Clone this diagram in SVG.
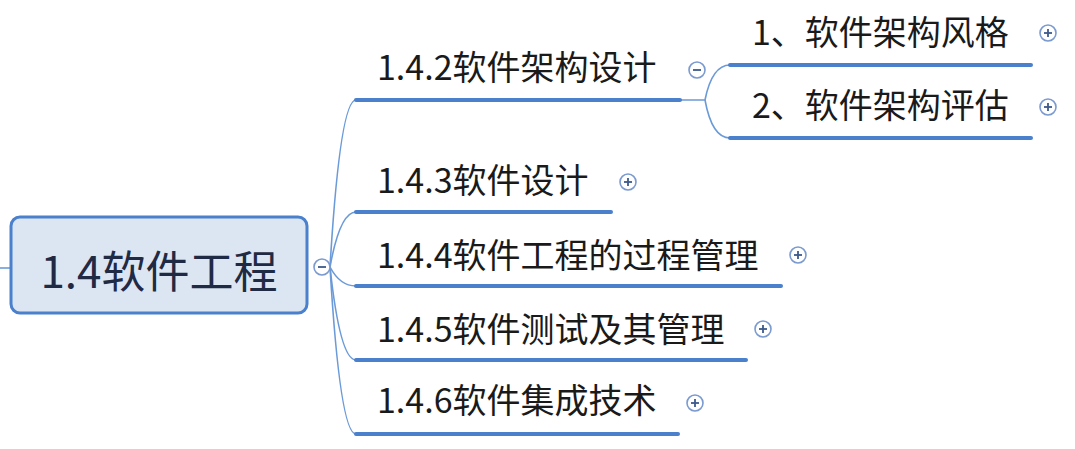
<svg xmlns="http://www.w3.org/2000/svg" width="1075" height="449" viewBox="0 0 1075 449">
<style>
.t{font-family:"Noto Sans CJK SC","Microsoft YaHei",sans-serif;fill:#1a1a1a;font-size:34px}
.root{font-family:"Noto Sans CJK SC","Microsoft YaHei",sans-serif;fill:#1f2a44;font-size:44px}
.ul{stroke:#4a80cc;stroke-width:4;stroke-linecap:round;fill:none}
.cn{stroke:#6b9ad8;stroke-width:1.6;fill:none}
.ic{fill:#fff;stroke:#7a9ad0;stroke-width:1.6}
.sg{stroke:#3d5a8c;stroke-width:1.8}
</style>
<rect width="1075" height="449" fill="#fff"/>
<g id="connectors">
<line class="cn" x1="0" y1="268" x2="11" y2="268"/>
<path class="cn" d="M330,267 Q340,100 356,100"/>
<path class="cn" d="M330,267 Q340,212 356,212"/>
<path class="cn" d="M330,267 Q340,286 356,286"/>
<path class="cn" d="M330,267 Q340,360 356,360"/>
<path class="cn" d="M330,267 Q340,434 356,434"/>
<path class="cn" d="M680,100 L705,100 Q712,65 730,65"/>
<path class="cn" d="M705,100 Q712,138 730,138"/>
</g>
<g id="root">
<rect x="11" y="217" width="296" height="96" rx="9" fill="#dce6f2" stroke="#4a80cc" stroke-width="3"/>
<text class="root" x="159" y="288" text-anchor="middle">1.4软件工程</text>
<circle class="ic" cx="322" cy="267" r="8"/>
<line class="sg" x1="318" y1="267" x2="326" y2="267"/>
</g>
<g id="n142">
<text class="t" x="377" y="80">1.4.2软件架构设计</text>
<line class="ul" x1="356" y1="100" x2="680" y2="100"/>
<circle class="ic" cx="697" cy="70" r="8"/>
<line class="sg" x1="693" y1="70" x2="701" y2="70"/>
</g>
<g id="n1">
<text class="t" x="752" y="45">1、软件架构风格</text>
<line class="ul" x1="730" y1="65" x2="1031" y2="65"/>
<circle class="ic" cx="1048" cy="33" r="8"/>
<line class="sg" x1="1044" y1="33" x2="1052" y2="33"/>
<line class="sg" x1="1048" y1="29" x2="1048" y2="37"/>
</g>
<g id="n2">
<text class="t" x="752" y="118">2、软件架构评估</text>
<line class="ul" x1="730" y1="138" x2="1031" y2="138"/>
<circle class="ic" cx="1048" cy="107" r="8"/>
<line class="sg" x1="1044" y1="107" x2="1052" y2="107"/>
<line class="sg" x1="1048" y1="103" x2="1048" y2="111"/>
</g>
<g id="n143">
<text class="t" x="377" y="193">1.4.3软件设计</text>
<line class="ul" x1="356" y1="212" x2="611" y2="212"/>
<circle class="ic" cx="628" cy="182" r="8"/>
<line class="sg" x1="624" y1="182" x2="632" y2="182"/>
<line class="sg" x1="628" y1="178" x2="628" y2="186"/>
</g>
<g id="n144">
<text class="t" x="377" y="268">1.4.4软件工程的过程管理</text>
<line class="ul" x1="356" y1="286" x2="781" y2="286"/>
<circle class="ic" cx="798" cy="255" r="8"/>
<line class="sg" x1="794" y1="255" x2="802" y2="255"/>
<line class="sg" x1="798" y1="251" x2="798" y2="259"/>
</g>
<g id="n145">
<text class="t" x="377" y="342">1.4.5软件测试及其管理</text>
<line class="ul" x1="356" y1="360" x2="746" y2="360"/>
<circle class="ic" cx="763" cy="329" r="8"/>
<line class="sg" x1="759" y1="329" x2="767" y2="329"/>
<line class="sg" x1="763" y1="325" x2="763" y2="333"/>
</g>
<g id="n146">
<text class="t" x="377" y="413">1.4.6软件集成技术</text>
<line class="ul" x1="356" y1="434" x2="678" y2="434"/>
<circle class="ic" cx="695" cy="403" r="8"/>
<line class="sg" x1="691" y1="403" x2="699" y2="403"/>
<line class="sg" x1="695" y1="399" x2="695" y2="407"/>
</g>
</svg>
